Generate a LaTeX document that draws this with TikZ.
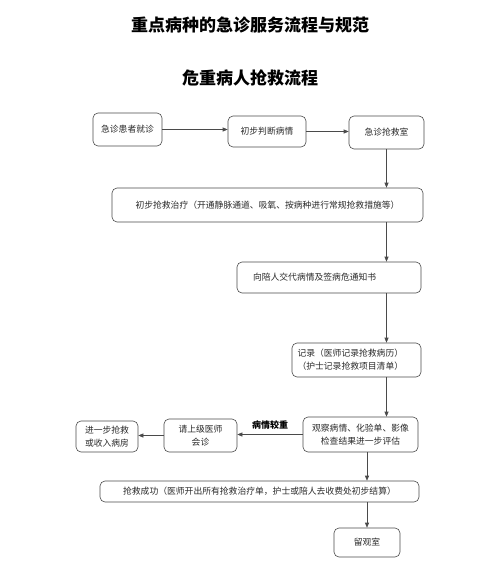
\documentclass[tikz,border=0pt]{standalone}
\usepackage{fontspec}
\setmainfont{Noto Sans CJK SC}
\usepackage{tikz}
\usetikzlibrary{positioning,arrows.meta}
\definecolor{inkgrey}{HTML}{2A2A2A}
\definecolor{rulegrey}{HTML}{4A4A4A}
\tikzset{
  step box/.style = {draw=rulegrey, line width=0.6pt, rounded corners=5pt,
                     align=center, inner sep=2pt, text=inkgrey,
                     font=\fontsize{8.8}{13}\selectfont},
  heading/.style  = {font=\fontsize{17}{20}\selectfont\bfseries, text=black},
  flow/.style     = {-{Triangle[length=5pt,width=4pt]}, draw=rulegrey, line width=0.6pt},
}

\begin{document}
\begin{tikzpicture}[x=1pt, y=-1pt]
  \useasboundingbox[fill=white] (0,0) rectangle (501,568);

  \node[heading] (title) at (250,25) {重点病种的急诊服务流程与规范};
  \node[heading] (sub)   at (250,78) {危重病人抢救流程};

  % top row
  \node[step box, minimum width=69pt, minimum height=33pt] (visit) at (127.5,129.5) {急诊患者就诊};
  \node[step box, minimum width=78pt, minimum height=31pt] (judge) at (267,131.5) {初步判断病情};
  \node[step box, minimum width=75pt, minimum height=33pt] (room)  at (386.5,132.5) {急诊抢救室};

  % main column
  \node[step box, minimum width=311pt, minimum height=34pt] (treat) at (267.5,205)
       {初步抢救治疗（开通静脉通道、吸氧、按病种进行常规抢救措施等）};
  \node[step box, minimum width=184pt, minimum height=31pt, text width=176pt, align=left] (notify) at (329,277.5)
       {\hspace*{12pt}向陪人交代病情及签病危通知书};
  \node[step box, minimum width=129pt, minimum height=34pt, text width=118pt, align=left] (record) at (356.5,360)
       {记录（医师记录抢救病历）\\（护士记录抢救项目清单）};
  \node[step box, minimum width=115pt, minimum height=35pt] (watch) at (360.5,434.5)
       {观察病情、化验单、影像\\检查结果进一步评估};

  % left branch
  \node[step box, minimum width=73pt, minimum height=33pt] (consult) at (200.5,435.5) {请上级医师\\会诊};
  \node[step box, minimum width=62pt, minimum height=31pt] (ward)    at (107,436.5) {进一步抢救\\或收入病房};

  % end
  \node[step box, minimum width=319pt, minimum height=21pt] (success) at (259.5,491.5)
       {抢救成功（医师开出所有抢救治疗单，护士或陪人去收费处初步结算）};
  \node[step box, minimum width=66pt, minimum height=29pt] (obs) at (367,542.5) {留观室};

  \draw[flow] (visit) -- (visit -| judge.west);
  \draw[flow] (judge) -- (judge -| room.west);
  \draw[flow] (room.south) -- (room.south |- treat.north);
  \draw[flow] (treat.south -| room.south) -- (notify.north -| room.south);
  \draw[flow] (notify.south -| room.south) -- (record.north -| room.south);
  \draw[flow] (record.south -| room.south) -- (watch.north -| room.south);
  \draw[flow] (watch.west) -- node[above=1pt, font=\fontsize{9}{11}\selectfont\bfseries] (worse) {病情较重} (watch.west -| consult.east);
  \draw[flow] (consult.west) -- (consult.west -| ward.east);
  \draw[flow] (watch.south -| obs.north) -- (success.north -| obs.north);
  \draw[flow] (success.south -| obs.north) -- (obs.north);
\end{tikzpicture}
\end{document}
